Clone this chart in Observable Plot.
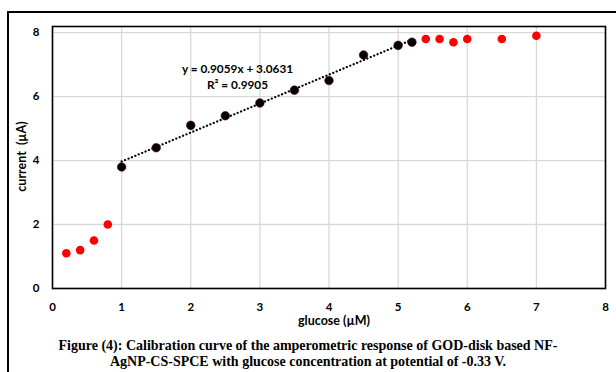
<!DOCTYPE html>
<html><head><meta charset="utf-8">
<script src="https://cdn.jsdelivr.net/npm/d3@7"></script>
<script src="https://cdn.jsdelivr.net/npm/@observablehq/plot@0.6"></script>
<style>
body{margin:0;background:#fff;}
#wrap{position:relative;width:616px;height:372px;overflow:hidden;background:#fff;}
#chart{position:absolute;left:0;top:0;}
#border{position:absolute;left:7px;top:11px;width:640px;height:400px;border:2px solid #000;box-sizing:border-box;pointer-events:none}
#caption{position:absolute;left:0;width:616px;top:338px;text-align:center;font:bold 14px "Liberation Serif",serif;line-height:16px;color:#000}
</style></head><body>
<div id="wrap"><div id="chart"></div><div id="border"></div><div id="caption"></div></div>
<script>
// Linear-range points (black)
const linX = [1, 1.5, 2, 2.5, 3, 3.5, 4, 4.5, 5, 5.2];
const linY = [3.8, 4.4, 5.1, 5.4, 5.8, 6.2, 6.5, 7.3, 7.6, 7.7];
// Points outside linear range (red)
const outX = [0.2, 0.4, 0.6, 0.8, 5.4, 5.6, 5.8, 6.0, 6.5, 7.0];
const outY = [1.1, 1.2, 1.5, 2.0, 7.8, 7.8, 7.7, 7.8, 7.8, 7.9];
const xTicks = [0, 1, 2, 3, 4, 5, 6, 7, 8];
const yTicks = [0, 2, 4, 6, 8];
const xLabel = "glucose (µM)";
const yLabel = "current  (µA)";
const eqLine1 = "y = 0.9059x + 3.0631";
const eqLine2 = "R² = 0.9905";
const captionLines = [
  "Figure (4): Calibration curve of the amperometric response of GOD-disk based NF-",
  "AgNP-CS-SPCE with glucose concentration at potential of -0.33 V."
];

const lin = linX.map((x, i) => ({x, y: linY[i]}));
const out = outX.map((x, i) => ({x, y: outY[i]}));
const font = "Lato, 'Open Sans', sans-serif";

const chart = Plot.plot({
  width: 616,
  height: 372,
  marginLeft: 52,
  marginTop: 26,
  marginRight: 11,
  marginBottom: 84,
  style: {background: "transparent", fontFamily: font, fontSize: "11.5px", fontWeight: "bold", color: "#000"},
  x: {domain: [0, 8], ticks: xTicks, tickSize: 0, tickPadding: 14, label: null},
  y: {domain: [0, 8.19], ticks: yTicks, tickSize: 0, tickPadding: 13, label: null},
  marks: [
    Plot.gridX(xTicks, {stroke: "#d9d9d9", strokeOpacity: 1, strokeWidth: 1.3}),
    Plot.gridY(yTicks, {stroke: "#d9d9d9", strokeOpacity: 1, strokeWidth: 1.3}),
    Plot.frame({stroke: "#000", strokeWidth: 1.6}),
    Plot.linearRegressionY(lin, {x: "x", y: "y", ci: 0, stroke: "#000", strokeWidth: 2.2, strokeDasharray: "0.1 3.6", strokeLinecap: "round"}),
    Plot.dot(out, {x: "x", y: "y", r: 4.3, fill: "#ff0000", stroke: "none"}),
    Plot.dot(lin, {x: "x", y: "y", r: 4.3, fill: "#000", stroke: "#5a0000", strokeWidth: 0.6}),
    Plot.text([eqLine1], {frameAnchor: "top-left", textAnchor: "middle", lineAnchor: "middle", dx: 185, dy: 43, fontSize: 11.8, fontWeight: "bold", fill: "#000"}),
    Plot.text([eqLine2], {frameAnchor: "top-left", textAnchor: "middle", lineAnchor: "middle", dx: 185, dy: 59, fontSize: 11.8, fontWeight: "bold", fill: "#000"}),
    Plot.text([xLabel], {frameAnchor: "bottom", textAnchor: "middle", lineAnchor: "middle", dx: 5, dy: 32, fontSize: 12.5, fontWeight: "bold", fill: "#000"}),
    Plot.text([yLabel], {frameAnchor: "left", textAnchor: "middle", lineAnchor: "middle", rotate: -90, dx: -31, dy: -1, fontSize: 12.5, fontWeight: "bold", fill: "#000"})
  ]
});
document.getElementById("chart").appendChild(chart);
document.getElementById("caption").innerHTML = captionLines.join("<br>");
</script>
</body></html>
